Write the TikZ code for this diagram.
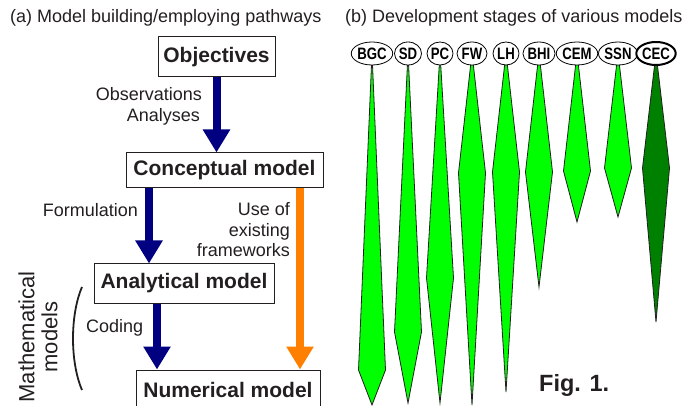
\documentclass[tikz,border=0pt]{standalone}
\usepackage{fontspec}
\setmainfont{Liberation Sans}
\newfontfamily\condfont[FakeStretch=0.8]{Liberation Sans}
\usetikzlibrary{arrows.meta,shapes.geometric}
\definecolor{ink}{HTML}{231F20}
\definecolor{navy}{HTML}{000080}
\definecolor{orng}{HTML}{FF8000}
\definecolor{stagegreen}{HTML}{00FF00}
\definecolor{stagedark}{HTML}{008000}

\begin{document}
\begin{tikzpicture}[
    x=1pt, y=-1pt,
    box/.style={draw=ink, line width=1pt, text=ink, inner sep=0pt,
        font=\fontsize{21}{24}\selectfont\bfseries},
    lbl/.style={text=ink, inner sep=0pt, font=\fontsize{18}{20.5}\selectfont},
    pipe/.style={line width=8pt, -{Triangle[length=23pt, width=26pt]}},
    tag/.style={ellipse, draw=black, line width=0.8pt, fill=white,
        minimum height=23pt, inner sep=0pt,
        font=\condfont\bfseries\fontsize{16.5}{16.5}\selectfont},
    stage/.style={draw=ink, line width=0.8pt, fill=stagegreen},
]
\clip (0,0) rectangle (683,406);

% (a) pathways
\node[lbl, anchor=west] (ta) at (10,18) {(a) Model building/employing pathways};

\node[box, minimum width=117pt, minimum height=40pt] (obj) at (216.5,57) {Objectives};
\node[box, minimum width=197pt, minimum height=35pt] (con) at (224.5,170.5) {Conceptual model};
\node[box, minimum width=180pt, minimum height=39pt] (ana) at (184,283.5) {Analytical model};
\node[box, minimum width=184pt, minimum height=40pt] (num) at (228,390) {Numerical model};

\coordinate (xform) at (149,0);
\coordinate (xcode) at (157,0);
\coordinate (xuse) at (300,0);

\draw[pipe, navy] (obj.south) -- (con.north -| obj.south);
\draw[pipe, navy] (con.south -| xform) -- (ana.north -| xform);
\draw[pipe, navy] (ana.south -| xcode) -- (num.north -| xcode);
\draw[pipe, orng] (con.south -| xuse) -- (num.north -| xuse);

\node[lbl, anchor=east] (obs) at (202,94) {Observations};
\node[lbl, anchor=east] (ans) at (200,117) {Analyses};
\node[lbl, anchor=east] (form) at (138,210) {Formulation};
\node[lbl, anchor=east, align=right] (use) at (290,230) {Use of\\existing\\frameworks};
\node[lbl, anchor=west] (cod) at (86,328) {Coding};

\node[text=ink, inner sep=0pt, rotate=90, align=center,
    font=\fontsize{22}{23}\selectfont] (mm) at (38,337) {Mathematical\\models};
\draw[ink, line width=1.8pt] (82,287) .. controls (70,315) and (70,362) .. (82,390);

% (b) stages
\node[lbl, anchor=west] (tb) at (345,18) {(b) Development stages of various models};

\foreach \cx/\ym/\yb/\lab/\w in {372/370/405/BGC/40, 408/332/403/SD/27,
    440/278/403/PC/26, 472/173/405/FW/30, 506/172/392/LH/26,
    539/172/287/BHI/31, 577/171/222/CEM/41, 618/168/217/SSN/39}{
  \draw[stage] (\cx,53) -- (\cx-13.5,\ym) -- (\cx,\yb) -- (\cx+13.5,\ym) -- cycle;
  \node[tag, minimum width=\w pt] (t-\lab) at (\cx,53.5) {\lab};
}
\draw[stage, fill=stagedark] (656,53) -- (642.5,168) -- (656,322) -- (669.5,168) -- cycle;
\node[tag, line width=2pt, minimum width=37pt] (t-CEC) at (656,53.5) {CEC};

\node[text=ink, anchor=west, inner sep=0pt,
    font=\fontsize{23.5}{26}\selectfont\bfseries] (fig) at (539,385) {Fig. 1.};
\end{tikzpicture}
\end{document}
